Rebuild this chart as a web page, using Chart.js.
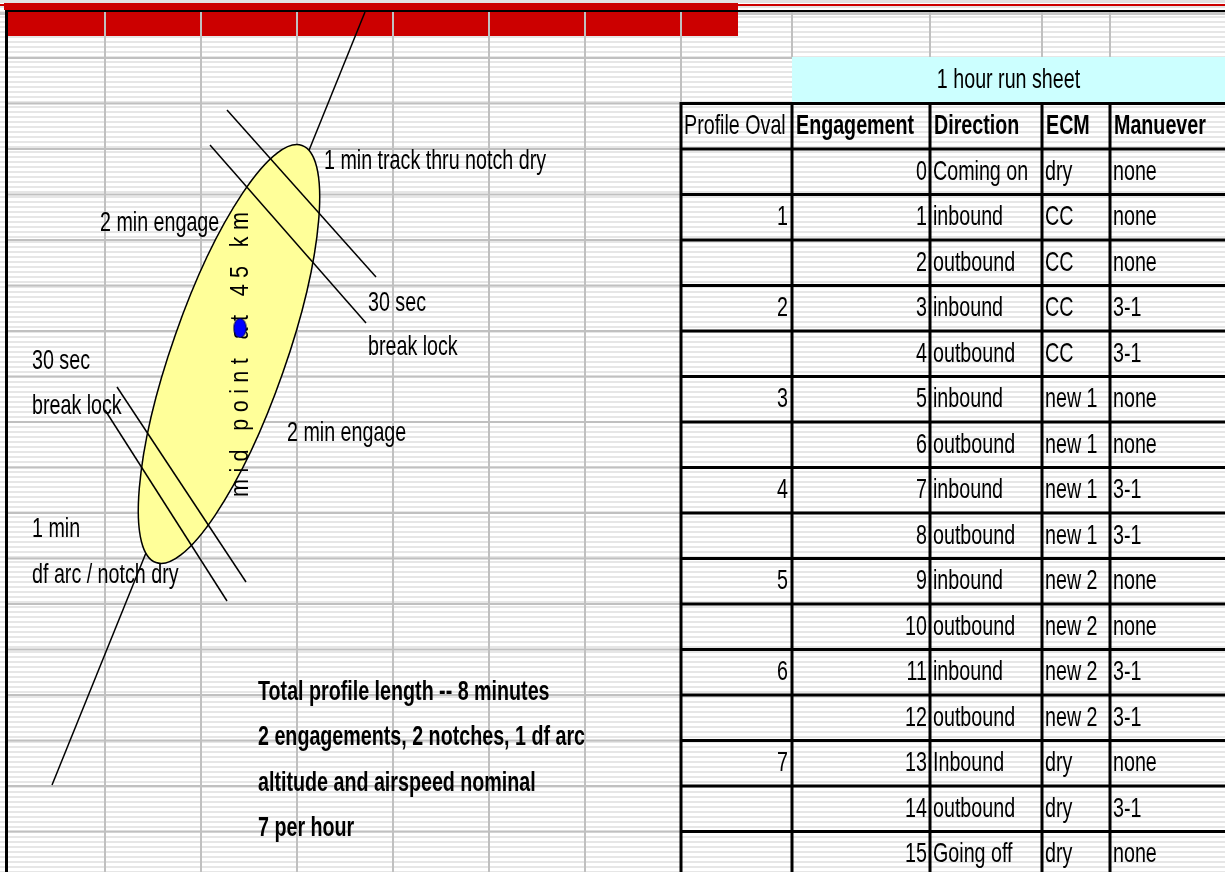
<!DOCTYPE html>
<html>
<head>
<meta charset="utf-8">
<title>1 hour run sheet</title>
<script src="https://cdn.jsdelivr.net/npm/chart.js@4.4.0/dist/chart.umd.min.js"></script>
<style>
  html, body { margin: 0; padding: 0; background: #fff; }
  #wrap { width: 1225px; height: 872px; }
</style>
</head>
<body>
<div id="wrap"><canvas id="sheet" width="1225" height="872"></canvas></div>
<script>
// ---- run sheet table ----
const sheetTitle = '1 hour run sheet';
const headers = ['Profile Oval', 'Engagement', 'Direction', 'ECM', 'Manuever'];
const engagement = [0, 1, 2, 3, 4, 5, 6, 7, 8, 9, 10, 11, 12, 13, 14, 15];
const profileOval = [null, 1, null, 2, null, 3, null, 4, null, 5, null, 6, null, 7, null, null];
const direction = ['Coming on', 'inbound', 'outbound', 'inbound', 'outbound', 'inbound', 'outbound', 'inbound',
                   'outbound', 'inbound', 'outbound', 'inbound', 'outbound', 'Inbound', 'outbound', 'Going off'];
const ecm = ['dry', 'CC', 'CC', 'CC', 'CC', 'new 1', 'new 1', 'new 1',
             'new 1', 'new 2', 'new 2', 'new 2', 'new 2', 'dry', 'dry', 'dry'];
const manuever = ['none', 'none', 'none', '3-1', '3-1', 'none', 'none', '3-1',
                  '3-1', 'none', 'none', '3-1', '3-1', 'none', '3-1', 'none'];

// ---- profile diagram (sheet units) ----
const trackLine = [[365, 12], [52, 785]];
const notchLines = [
  [[227, 110], [376, 277]],
  [[210, 145], [366, 323]],
  [[117, 387], [246, 582]],
  [[105, 410], [227, 601]]
];
const midPoint = [240, 328];
const ovalCentre = [229, 354];
const ovalRadii = [57, 221];
const ovalTilt = 19.3;
const midLabel = 'mid point at 45 km';
const noteLabels = ['1 min track thru notch dry', '2 min engage', '30 sec', 'break lock',
                    '30 sec', 'break lock', '2 min engage', '1 min', 'df arc / notch dry'];
const summaryLines = ['Total profile length -- 8 minutes', '2 engagements, 2 notches, 1 df arc',
                      'altitude and airspeed nominal', '7 per hour'];

// ---- layout ----
const W = 1225, H = 872;
const FONT = '"Liberation Sans", Arial, sans-serif';
const leftCols = [105, 201, 297, 393, 489, 585, 681];
const topCols = [792, 930, 1042, 1110];
const firstRow = 58, rowH = 45.5;
const tableCols = [681, 792, 930, 1042, 1110];
const tableTop = 103.5;
const notePos = [[324, 161], [100, 223], [368, 303], [368, 347], [32, 361], [32, 406], [287, 433], [32, 529], [32, 575]];
const summaryPos = [258, 692];

// narrow, tall spreadsheet lettering
function sheetText(ctx, str, px, py, bold, align) {
  ctx.save();
  ctx.font = (bold ? 'bold ' : '') + '24px ' + FONT;
  ctx.fillStyle = '#000';
  ctx.textAlign = align || 'left';
  ctx.textBaseline = 'middle';
  ctx.translate(px, py);
  ctx.scale(0.82, 1.18);
  ctx.fillText(str, 0, 0);
  ctx.restore();
}

const sheetPlugin = {
  id: 'sheet',
  beforeDraw(chart) {
    const ctx = chart.ctx;
    const X = v => chart.scales.x.getPixelForValue(v);
    const Y = v => chart.scales.y.getPixelForValue(v);
    const rect = (x0, y0, x1, y1, c) => { ctx.fillStyle = c; ctx.fillRect(X(x0), Y(y0), X(x1) - X(x0), Y(y1) - Y(y0)); };
    const line = (x0, y0, x1, y1, c, w) => {
      ctx.strokeStyle = c; ctx.lineWidth = w;
      ctx.beginPath(); ctx.moveTo(X(x0), Y(y0)); ctx.lineTo(X(x1), Y(y1)); ctx.stroke();
    };
    ctx.save();
    rect(0, 0, W, H, '#ffffff');
    for (let v = 1; v < H; v += 5) rect(0, v, W, v + 2, '#e6e6e6');
    rect(0, 0, W, 3, '#e2e2e2');
    rect(0, 12, W, 15, '#c8c8c8');
    // red header strip
    rect(0, 4, W, 6, '#cc0000');
    rect(4, 3, 738, 10, '#cc0000');
    rect(8, 12, 738, 36, '#cc0000');
    // grid
    leftCols.forEach(c => line(c, 12, c, H, '#c0c0c0', 2));
    topCols.forEach(c => line(c, 12, c, firstRow, '#c0c0c0', 2));
    for (let r = firstRow; r < H; r += rowH) line(8, r, 681, r, '#c0c0c0', 2);
    line(681, firstRow, W, firstRow, '#c0c0c0', 2);
    // frame
    rect(5, 10, W, 12, '#000000');
    rect(5, 10, 8, H, '#000000');
    // title band
    rect(792, 57, W, tableTop, '#ccffff');
    sheetText(ctx, sheetTitle, X((792 + W) / 2), Y(80), false, 'center');
    // table borders
    for (let i = 0; i <= engagement.length + 1; i++) {
      const r = tableTop + i * rowH;
      if (r < H) line(681, r, W, r, '#000000', 3);
    }
    tableCols.forEach(c => line(c, tableTop - 1.5, c, H, '#000000', 3));
    // headers
    const hy = Y(tableTop + rowH / 2);
    sheetText(ctx, headers[0], X(684), hy, false);
    sheetText(ctx, headers[1], X(796), hy, true);
    sheetText(ctx, headers[2], X(934), hy, true);
    sheetText(ctx, headers[3], X(1046), hy, true);
    sheetText(ctx, headers[4], X(1114), hy, true);
    engagement.forEach((e, i) => {
      const cy = Y(tableTop + (i + 1) * rowH + rowH / 2);
      if (profileOval[i] !== null) sheetText(ctx, String(profileOval[i]), X(788), cy, false, 'right');
      sheetText(ctx, String(e), X(927), cy, false, 'right');
      sheetText(ctx, direction[i], X(933), cy, false);
      sheetText(ctx, ecm[i], X(1045), cy, false);
      sheetText(ctx, manuever[i], X(1113), cy, false);
    });
    ctx.restore();
  },
  // oval sits above the track line and below the notch lines
  afterDatasetDraw(chart, args) {
    if (args.index !== 0) return;
    const ctx = chart.ctx;
    const X = v => chart.scales.x.getPixelForValue(v);
    const Y = v => chart.scales.y.getPixelForValue(v);
    ctx.save();
    ctx.beginPath();
    ctx.ellipse(X(ovalCentre[0]), Y(ovalCentre[1]),
                X(ovalCentre[0] + ovalRadii[0]) - X(ovalCentre[0]),
                Y(ovalCentre[1] + ovalRadii[1]) - Y(ovalCentre[1]),
                ovalTilt * Math.PI / 180, 0, Math.PI * 2);
    ctx.fillStyle = '#ffff99';
    ctx.fill();
    ctx.strokeStyle = '#000000';
    ctx.lineWidth = 1.5;
    ctx.stroke();
    // vertical label
    ctx.translate(X(248), Y(497));
    ctx.rotate(-Math.PI / 2);
    ctx.font = '24px ' + FONT;
    const plain = ctx.measureText(midLabel).width * 0.9;
    ctx.letterSpacing = ((285 - plain) / 0.9 / (midLabel.length - 1)) + 'px';
    ctx.scale(0.9, 1.05);
    ctx.fillStyle = '#000';
    ctx.textBaseline = 'alphabetic';
    ctx.fillText(midLabel, 0, 0);
    ctx.restore();
  },
  afterDatasetsDraw(chart) {
    const ctx = chart.ctx;
    const X = v => chart.scales.x.getPixelForValue(v);
    const Y = v => chart.scales.y.getPixelForValue(v);
    noteLabels.forEach((t, i) => sheetText(ctx, t, X(notePos[i][0]), Y(notePos[i][1]), false));
    summaryLines.forEach((t, i) => sheetText(ctx, t, X(summaryPos[0]), Y(summaryPos[1] + i * rowH), true));
  }
};

// blue mid-point marker
const dot = document.createElement('canvas');
dot.width = 15; dot.height = 22;
(function () {
  const c = dot.getContext('2d');
  c.beginPath();
  c.ellipse(7.5, 11, 6.2, 9.5, 0, 0, Math.PI * 2);
  c.fillStyle = '#0000ff';
  c.fill();
  c.strokeStyle = '#000040';
  c.lineWidth = 1;
  c.stroke();
})();

const toXY = p => ({ x: p[0], y: p[1] });
const datasets = [
  { label: 'track', data: trackLine.map(toXY), showLine: true, borderColor: '#000', borderWidth: 1.5, pointRadius: 0, order: 3 }
];
notchLines.forEach((seg, i) => datasets.push({
  label: 'notch ' + (i + 1), data: seg.map(toXY), showLine: true, borderColor: '#000', borderWidth: 1.5, pointRadius: 0, order: 2
}));
datasets.push({ label: 'mid point', data: [toXY(midPoint)], pointStyle: dot, pointRadius: 6, order: 1 });

new Chart(document.getElementById('sheet'), {
  type: 'scatter',
  data: { datasets: datasets },
  options: {
    responsive: false,
    devicePixelRatio: 1,
    animation: false,
    layout: { padding: 0, autoPadding: false },
    scales: {
      x: { type: 'linear', min: 0, max: W, display: false },
      y: { type: 'linear', min: 0, max: H, reverse: true, display: false }
    },
    plugins: { legend: { display: false }, tooltip: { enabled: false } },
    events: []
  },
  plugins: [sheetPlugin]
});
</script>
</body>
</html>
